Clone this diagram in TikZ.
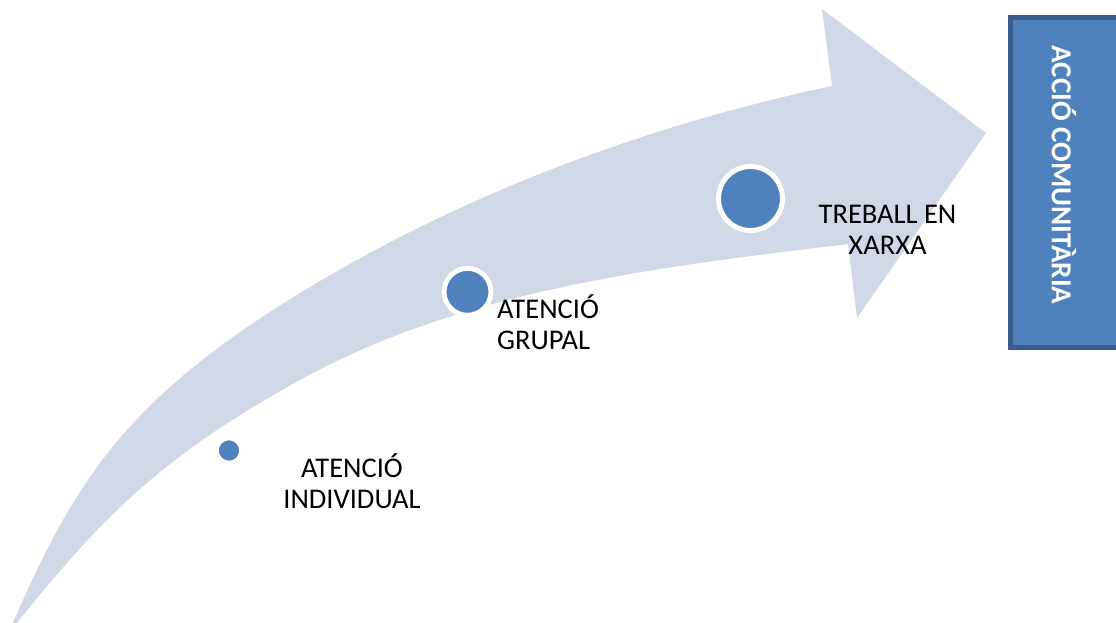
\documentclass[tikz,border=0pt]{standalone}
\usepackage{fontspec}
\setmainfont{Carlito}
\usepackage{tikz}
\usetikzlibrary{positioning}

\definecolor{arrowfill}{HTML}{D0D8E8}
\definecolor{stageblue}{HTML}{4F81BD}
\definecolor{boxborder}{HTML}{385D8A}

\tikzset{
  stage/.style={circle, fill=stageblue, draw=white, inner sep=0pt},
  stagetext/.style={font=\fontsize{28.5}{31}\selectfont, inner sep=0pt},
  finalbox/.style={rectangle, fill=stageblue, draw=boxborder, line width=5pt, inner sep=0pt},
}

\begin{document}
\begin{tikzpicture}[x=1pt, y=-1pt]
        \useasboundingbox (0,0) rectangle (1116,623);

        % Curved arrow: outer edge, head, then inner edge back to the tail
        \fill[arrowfill] (8,634)
            .. controls (71.5,487.1) and (120.7,402.4) .. (300,293)
            .. controls (462.3,194) and (646.2,125.3) .. (832,86)
            -- (822,9) -- (986,133) -- (857,318) -- (848,244)
            .. controls (661.3,266.7) and (464.5,289) .. (300,380)
            .. controls (160,457.4) and (101.5,516.7) .. (8,634) -- cycle;

        % Stages along the arrow
        \node[stage, minimum size=22pt, line width=1.5pt] (individual) at (229,450.5) {};
        \node[stage, minimum size=46.8pt, line width=4.8pt] (grupal) at (467.5,291.8) {};
        \node[stage, minimum size=64pt, line width=5pt] (xarxa) at (750.5,198.5) {};

        % Labels
        \node[stagetext, align=center] (lbl-individual) at (352,481) {ATENCIÓ\\INDIVIDUAL};
        \node[stagetext, align=left, anchor=west] (lbl-grupal) at (497,322) {ATENCIÓ\\GRUPAL};
        \node[stagetext, align=center] (lbl-xarxa) at (887.5,230) {TREBALL EN\\XARXA};

        % Goal box on the right
        \node[finalbox, minimum width=119.5pt, minimum height=330pt] (comunitaria) at (1070.25,182.5) {};
        \node[rotate=-90, text=white, font=\bfseries\fontsize{29}{32}\selectfont, inner sep=0pt] (lbl-comunitaria) at (1064,175) {ACCIÓ COMUNITÀRIA};
\end{tikzpicture}
\end{document}
